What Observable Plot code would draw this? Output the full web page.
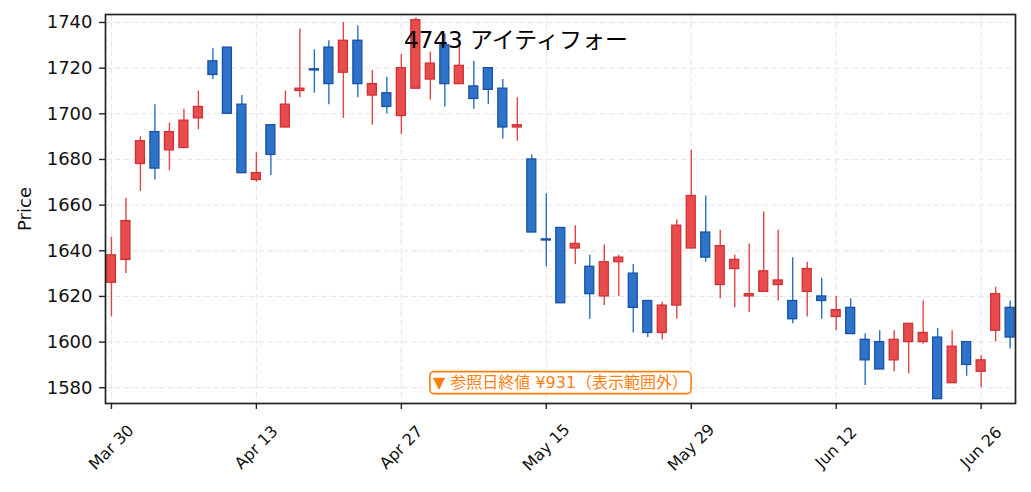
<!DOCTYPE html>
<html>
<head>
<meta charset="utf-8">
<script src="https://cdn.jsdelivr.net/npm/d3@7"></script>
<script src="https://cdn.jsdelivr.net/npm/@observablehq/plot@0.6"></script>
<style>
  html, body { margin: 0; padding: 0; background: #fff; }
  #chart { width: 1031px; height: 492px; }
</style>
</head>
<body>
<div id="chart"></div>
<script>
const title = "4743 アイティフォー";
const note = "▼ 参照日終値 ¥931（表示範囲外）";
const yLabel = "Price";

const dates = [
  "2020-03-30","2020-03-31","2020-04-01","2020-04-02","2020-04-03","2020-04-06","2020-04-07","2020-04-08","2020-04-09","2020-04-10",
  "2020-04-13","2020-04-14","2020-04-15","2020-04-16","2020-04-17","2020-04-20","2020-04-21","2020-04-22","2020-04-23","2020-04-24",
  "2020-04-27","2020-04-28","2020-04-30","2020-05-01","2020-05-07","2020-05-08","2020-05-11","2020-05-12","2020-05-13","2020-05-14",
  "2020-05-15","2020-05-18","2020-05-19","2020-05-20","2020-05-21","2020-05-22","2020-05-25","2020-05-26","2020-05-27","2020-05-28",
  "2020-05-29","2020-06-01","2020-06-02","2020-06-03","2020-06-04","2020-06-05","2020-06-08","2020-06-09","2020-06-10","2020-06-11",
  "2020-06-12","2020-06-15","2020-06-16","2020-06-17","2020-06-18","2020-06-19","2020-06-22","2020-06-23","2020-06-24","2020-06-25",
  "2020-06-26","2020-06-29","2020-06-30"
];

const open = [
  1626,1636,1678,1692,1684,1685,1698,1723,1729,1704,
  1671,1695,1694,1710,1719.5,1729,1718,1732,1708,1709,
  1699,1711,1715,1730,1713,1712,1720,1711,1694,1680,
  1645,1650,1641,1633,1620,1635,1630,1618,1604,1616,
  1641,1648,1625,1632,1620,1622,1625,1618,1622,1620,
  1611,1615,1601,1600,1592,1600,1600,1602,1582,1600,
  1587,1605,1615
];
const high = [
  1646,1663,1690,1704,1696,1702,1710,1728.5,1729,1708,
  1683,1695,1710,1737,1728,1732,1740,1738.5,1719,1716,
  1726,1742,1727,1735,1731,1723,1720,1715,1707,1682,
  1665,1650,1651,1638,1642.5,1638,1634,1618,1617.5,1653.5,
  1684,1664,1649,1638,1643,1657,1649,1637,1635,1628,
  1620,1619,1603.5,1605,1605,1608,1618,1606,1605,1600,
  1594,1624,1618
];
const low = [
  1611,1630,1666,1671,1675,1685,1693,1715,1700,1674,
  1670,1673,1694,1707,1709,1704,1698,1707,1695,1700,
  1691,1711,1706,1703,1713,1702,1704,1689,1688,1648,
  1633,1617,1634,1610,1616,1620,1604,1602,1601,1610,
  1641,1635,1619,1615,1613,1622,1618,1608,1611,1610,
  1605,1603.5,1581,1588,1587,1586,1599,1575,1582,1585,
  1580,1600,1597
];
const close = [
  1638,1653,1688,1676,1692,1697,1703,1717,1700,1674,
  1674,1682,1704,1711,1719,1713,1732,1713,1713,1703,
  1720,1741,1722,1713,1721,1706.5,1710.5,1694,1695,1648,
  1644.5,1617,1643,1621,1635,1637,1615,1604,1616,1651,
  1664,1637,1642,1636,1621,1631,1627,1610,1632,1618,
  1614,1603.5,1592,1588,1601,1608,1604,1575,1598,1590,
  1592,1621,1602
];

const xTickIndex = [0, 10, 20, 30, 40, 50, 60];
const xTickLabels = ["Mar 30", "Apr 13", "Apr 27", "May 15", "May 29", "Jun 12", "Jun 26"];
const yTicks = [1580, 1600, 1620, 1640, 1660, 1680, 1700, 1720, 1740];

const upFill = "#e84c4c", upEdge = "#cf3236", upWick = "#e34545";
const downFill = "#2c73c9", downEdge = "#1a52a3", downWick = "#2a6fc6";

const data = open.map((o, i) => ({
  i, date: dates[i], open: o, high: high[i], low: low[i], close: close[i], up: close[i] >= o
}));

const font = "'DejaVu Sans', 'Noto Sans CJK JP', sans-serif";

const chart = Plot.plot({
  width: 1031,
  height: 492,
  marginLeft: 105,
  marginRight: 16,
  marginTop: 14,
  marginBottom: 89,
  style: { fontFamily: font, background: "#fff", color: "#111", overflow: "visible" },
  x: { type: "linear", domain: [-0.41, 62.37], label: null },
  y: { domain: [1573.1, 1743.5], label: null },
  marks: [
    Plot.gridY(yTicks, { stroke: "#e6e6e6", strokeOpacity: 1, strokeWidth: 1, strokeDasharray: "6,3" }),
    Plot.gridX(xTickIndex, { stroke: "#e6e6e6", strokeOpacity: 1, strokeWidth: 1, strokeDasharray: "6,3" }),
    Plot.ruleX(data, { x: "i", y1: "low", y2: "high", stroke: d => d.up ? upWick : downWick, strokeWidth: 1.4 }),
    Plot.rect(data, {
      x1: d => d.i - 0.31, x2: d => d.i + 0.31,
      y1: "open", y2: "close",
      fill: d => d.up ? upFill : downFill,
      stroke: d => d.up ? upEdge : downEdge,
      strokeWidth: 1.3
    }),
    Plot.frame({ stroke: "#222", strokeWidth: 1.7 }),
    Plot.axisY(yTicks, { tickSize: 6, tickPadding: 7, fontSize: 18, tickFormat: d3.format("d"), label: null, stroke: "#222", strokeWidth: 1.4, fill: "#111" }),
    Plot.axisX(xTickIndex, { tickSize: 6, tickFormat: () => "", label: null, stroke: "#222", strokeWidth: 1.4 }),
    Plot.text(xTickIndex, {
      x: d => d, text: (d, i) => xTickLabels[i], frameAnchor: "bottom", dy: 44,
      rotate: -45, textAnchor: "middle", lineAnchor: "middle", fontSize: 16, fill: "#111"
    }),
    Plot.text([yLabel], { text: d => d, frameAnchor: "left", dx: -80, rotate: -90, textAnchor: "middle", lineAnchor: "middle", fontSize: 18, fill: "#111" }),
    Plot.text([title], { text: d => d, frameAnchor: "top", dx: -44.5, dy: 26.5, textAnchor: "middle", lineAnchor: "middle", fontSize: 23, fill: "#000" }),
    Plot.text([note], { text: d => d, frameAnchor: "bottom", dy: -20.5, textAnchor: "middle", lineAnchor: "middle", fontSize: 16, fill: "#ff7f0e" })
  ]
});

document.getElementById("chart").appendChild(chart);

// rounded box around the annotation text
const noteText = Array.from(chart.querySelectorAll("text")).find(t => t.textContent === note);
if (noteText) {
  const bb = noteText.getBBox();
  const padX = 3, padY = 1.5;
  const rect = document.createElementNS("http://www.w3.org/2000/svg", "rect");
  rect.setAttribute("x", bb.x - padX);
  rect.setAttribute("y", bb.y - padY);
  rect.setAttribute("width", bb.width + 2 * padX);
  rect.setAttribute("height", bb.height + 2 * padY);
  rect.setAttribute("rx", 4);
  rect.setAttribute("fill", "#fff");
  rect.setAttribute("stroke", "#ff7f0e");
  rect.setAttribute("stroke-width", 1.6);
  const tr = noteText.getAttribute("transform");
  if (tr) rect.setAttribute("transform", tr);
  noteText.parentNode.insertBefore(rect, noteText);
}
</script>
</body>
</html>
